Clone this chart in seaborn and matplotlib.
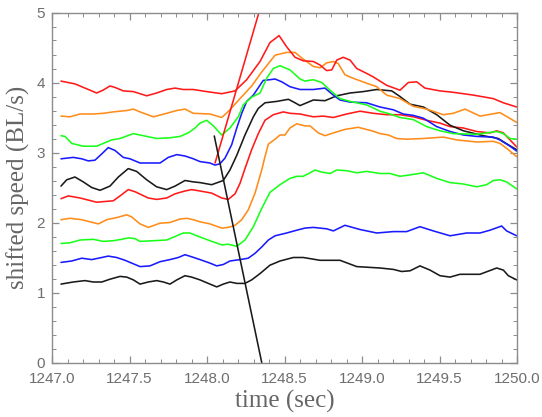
import matplotlib
matplotlib.use("Agg")
import matplotlib.pyplot as plt
import seaborn as sns
from matplotlib.ticker import MultipleLocator, FormatStrFormatter

# ---- data ----
x_black1 = [1247.058, 1247.137, 1247.213, 1247.266, 1247.321, 1247.374, 1247.439, 1247.482, 1247.525, 1247.568,
            1247.621, 1247.675, 1247.719, 1247.761, 1247.805, 1247.858, 1247.901, 1247.955, 1248.019, 1248.063,
            1248.105, 1248.148, 1248.192, 1248.245, 1248.288, 1248.342, 1248.406, 1248.471, 1248.557, 1248.621,
            1248.729, 1248.858, 1248.966, 1249.116, 1249.202, 1249.256, 1249.310, 1249.374, 1249.439, 1249.503,
            1249.568, 1249.632, 1249.761, 1249.869, 1249.912, 1249.944, 1249.998]
y_black1 = [1.12, 1.15, 1.17, 1.15, 1.15, 1.19, 1.23, 1.22, 1.18, 1.12,
            1.15, 1.17, 1.15, 1.12, 1.18, 1.24, 1.22, 1.18, 1.12, 1.08,
            1.12, 1.15, 1.13, 1.13, 1.18, 1.27, 1.39, 1.45, 1.50, 1.50,
            1.46, 1.46, 1.37, 1.35, 1.33, 1.30, 1.31, 1.38, 1.32, 1.24,
            1.22, 1.26, 1.26, 1.35, 1.32, 1.24, 1.18]

x_blue1 = [1247.058, 1247.127, 1247.192, 1247.256, 1247.321, 1247.363, 1247.417, 1247.471, 1247.514, 1247.568,
           1247.632, 1247.697, 1247.761, 1247.815, 1247.858, 1247.901, 1247.955, 1248.019, 1248.063, 1248.105,
           1248.148, 1248.213, 1248.266, 1248.310, 1248.353, 1248.396, 1248.439, 1248.514, 1248.579, 1248.632,
           1248.686, 1248.772, 1248.815, 1248.890, 1248.987, 1249.095, 1249.202, 1249.288, 1249.374, 1249.460,
           1249.568, 1249.675, 1249.761, 1249.826, 1249.901, 1249.933, 1249.998]
y_blue1 = [1.43, 1.45, 1.49, 1.47, 1.50, 1.52, 1.50, 1.46, 1.42, 1.37,
           1.38, 1.44, 1.47, 1.50, 1.54, 1.51, 1.47, 1.42, 1.38, 1.40,
           1.45, 1.47, 1.49, 1.56, 1.65, 1.75, 1.81, 1.85, 1.89, 1.92,
           1.93, 1.91, 1.88, 1.96, 1.90, 1.85, 1.87, 1.87, 1.94, 1.88,
           1.81, 1.85, 1.85, 1.89, 1.95, 1.88, 1.81]

x_green1 = [1247.058, 1247.116, 1247.181, 1247.266, 1247.331, 1247.395, 1247.450, 1247.492, 1247.535, 1247.568,
            1247.654, 1247.740, 1247.794, 1247.847, 1247.890, 1247.934, 1248.019, 1248.095, 1248.137, 1248.192,
            1248.245, 1248.299, 1248.353, 1248.406, 1248.471, 1248.535, 1248.579, 1248.621, 1248.665, 1248.697,
            1248.740, 1248.794, 1248.837, 1248.901, 1248.966, 1249.030, 1249.116, 1249.181, 1249.245, 1249.310,
            1249.396, 1249.482, 1249.568, 1249.654, 1249.740, 1249.804, 1249.847, 1249.890, 1249.933, 1249.998]
y_green1 = [1.70, 1.71, 1.75, 1.76, 1.73, 1.74, 1.76, 1.78, 1.77, 1.73,
            1.74, 1.75, 1.80, 1.85, 1.85, 1.81, 1.74, 1.68, 1.69, 1.66,
            1.75, 1.94, 2.20, 2.43, 2.54, 2.63, 2.66, 2.66, 2.71, 2.75,
            2.72, 2.70, 2.75, 2.74, 2.71, 2.73, 2.70, 2.70, 2.66, 2.68,
            2.71, 2.63, 2.57, 2.55, 2.51, 2.54, 2.60, 2.61, 2.58, 2.48]

x_orange1 = [1247.058, 1247.116, 1247.192, 1247.245, 1247.299, 1247.353, 1247.417, 1247.482, 1247.514, 1247.568,
             1247.621, 1247.697, 1247.761, 1247.826, 1247.869, 1247.912, 1247.955, 1248.019, 1248.095, 1248.137,
             1248.181, 1248.224, 1248.266, 1248.310, 1248.353, 1248.374, 1248.396, 1248.439, 1248.471, 1248.503,
             1248.535, 1248.579, 1248.632, 1248.665, 1248.718, 1248.761, 1248.815, 1248.890, 1248.976, 1249.063,
             1249.116, 1249.170, 1249.224, 1249.288, 1249.396, 1249.525, 1249.611, 1249.740, 1249.847, 1249.890,
             1249.933, 1249.998]
y_orange1 = [2.04, 2.06, 2.04, 2.01, 1.98, 2.04, 2.07, 2.11, 2.08, 1.98,
             1.93, 1.99, 2.00, 2.05, 2.06, 2.04, 2.01, 1.98, 1.92, 1.93,
             1.96, 2.04, 2.18, 2.42, 2.75, 2.94, 3.12, 3.19, 3.25, 3.25,
             3.35, 3.41, 3.38, 3.38, 3.28, 3.24, 3.28, 3.33, 3.36, 3.31,
             3.27, 3.25, 3.20, 3.19, 3.20, 3.22, 3.18, 3.15, 3.16, 3.13,
             3.06, 2.94]

x_red1 = [1247.058, 1247.105, 1247.181, 1247.288, 1247.395, 1247.439, 1247.492, 1247.535, 1247.621, 1247.675,
          1247.740, 1247.794, 1247.858, 1247.901, 1247.955, 1248.030, 1248.095, 1248.137, 1248.181, 1248.213,
          1248.245, 1248.288, 1248.331, 1248.374, 1248.428, 1248.492, 1248.535, 1248.600, 1248.686, 1248.750,
          1248.815, 1248.901, 1248.987, 1249.073, 1249.159, 1249.245, 1249.331, 1249.417, 1249.503, 1249.568,
          1249.654, 1249.740, 1249.826, 1249.869, 1249.912, 1249.955, 1249.998]
y_red1 = [2.34, 2.38, 2.35, 2.29, 2.31, 2.38, 2.47, 2.44, 2.35, 2.33,
          2.35, 2.41, 2.45, 2.47, 2.45, 2.42, 2.35, 2.33, 2.41, 2.56,
          2.77, 3.04, 3.27, 3.46, 3.54, 3.58, 3.56, 3.55, 3.51, 3.52,
          3.50, 3.55, 3.59, 3.56, 3.54, 3.54, 3.51, 3.46, 3.42, 3.37,
          3.35, 3.30, 3.28, 3.31, 3.28, 3.18, 3.08]

x_black2 = [1247.058, 1247.095, 1247.148, 1247.202, 1247.256, 1247.310, 1247.374, 1247.428, 1247.492, 1247.546,
            1247.611, 1247.675, 1247.740, 1247.794, 1247.858, 1247.912, 1247.955, 1248.030, 1248.105, 1248.148,
            1248.192, 1248.245, 1248.299, 1248.331, 1248.374, 1248.450, 1248.525, 1248.568, 1248.600, 1248.686,
            1248.761, 1248.837, 1248.923, 1249.008, 1249.095, 1249.192, 1249.245, 1249.310, 1249.396, 1249.482,
            1249.568, 1249.654, 1249.783, 1249.879, 1249.944, 1249.998]
y_black2 = [2.52, 2.61, 2.65, 2.58, 2.50, 2.46, 2.52, 2.65, 2.77, 2.73,
            2.61, 2.51, 2.47, 2.52, 2.60, 2.58, 2.57, 2.54, 2.60, 2.75,
            2.96, 3.25, 3.51, 3.63, 3.71, 3.73, 3.76, 3.71, 3.67, 3.75,
            3.74, 3.81, 3.85, 3.87, 3.90, 3.88, 3.80, 3.69, 3.65, 3.54,
            3.39, 3.31, 3.24, 3.20, 3.11, 3.04]

x_blue2 = [1247.058, 1247.137, 1247.192, 1247.234, 1247.277, 1247.321, 1247.363, 1247.406, 1247.460, 1247.503,
           1247.568, 1247.654, 1247.697, 1247.750, 1247.805, 1247.858, 1247.912, 1247.955, 1248.019, 1248.052,
           1248.084, 1248.116, 1248.159, 1248.192, 1248.224, 1248.256, 1248.299, 1248.363, 1248.406, 1248.439,
           1248.482, 1248.535, 1248.600, 1248.686, 1248.761, 1248.815, 1248.858, 1248.923, 1249.030, 1249.116,
           1249.202, 1249.266, 1249.331, 1249.396, 1249.482, 1249.568, 1249.654, 1249.740, 1249.847, 1249.890,
           1249.955, 1249.998]
y_blue2 = [2.91, 2.93, 2.91, 2.88, 2.89, 2.98, 3.07, 3.03, 2.93, 2.91,
           2.85, 2.85, 2.85, 2.93, 2.97, 2.95, 2.91, 2.87, 2.85, 2.82,
           2.84, 2.92, 3.11, 3.35, 3.56, 3.73, 3.82, 4.03, 4.04, 4.05,
           4.01, 3.94, 3.90, 3.90, 3.92, 3.82, 3.75, 3.72, 3.71, 3.65,
           3.61, 3.55, 3.53, 3.49, 3.37, 3.30, 3.25, 3.23, 3.22, 3.18,
           3.09, 3.02]

x_green2 = [1247.058, 1247.084, 1247.127, 1247.202, 1247.288, 1247.331, 1247.385, 1247.439, 1247.525, 1247.589,
            1247.675, 1247.761, 1247.826, 1247.879, 1247.923, 1247.955, 1247.998, 1248.041, 1248.095, 1248.148,
            1248.202, 1248.234, 1248.288, 1248.342, 1248.385, 1248.428, 1248.471, 1248.535, 1248.600, 1248.632,
            1248.686, 1248.740, 1248.794, 1248.858, 1248.923, 1249.030, 1249.116, 1249.181, 1249.245, 1249.331,
            1249.417, 1249.503, 1249.589, 1249.740, 1249.869, 1249.912, 1249.955, 1249.998]
y_green2 = [3.24, 3.23, 3.13, 3.09, 3.09, 3.13, 3.18, 3.20, 3.27, 3.24,
            3.20, 3.21, 3.23, 3.28, 3.35, 3.42, 3.46, 3.38, 3.25, 3.35,
            3.51, 3.68, 3.79, 3.85, 4.06, 4.20, 4.24, 4.18, 4.05, 4.02,
            4.04, 4.00, 3.89, 3.77, 3.73, 3.68, 3.59, 3.55, 3.50, 3.47,
            3.37, 3.31, 3.27, 3.26, 3.30, 3.27, 3.20, 3.19]

x_orange2 = [1247.058, 1247.116, 1247.181, 1247.266, 1247.331, 1247.395, 1247.482, 1247.525, 1247.568, 1247.654,
             1247.740, 1247.805, 1247.858, 1247.912, 1248.019, 1248.095, 1248.148, 1248.213, 1248.288, 1248.353,
             1248.439, 1248.514, 1248.568, 1248.611, 1248.686, 1248.729, 1248.772, 1248.815, 1248.847, 1248.890,
             1248.944, 1249.030, 1249.095, 1249.159, 1249.245, 1249.331, 1249.417, 1249.525, 1249.589, 1249.665,
             1249.761, 1249.890, 1249.998]
y_orange2 = [3.52, 3.51, 3.55, 3.55, 3.56, 3.58, 3.60, 3.62, 3.58, 3.51,
             3.56, 3.60, 3.62, 3.56, 3.55, 3.50, 3.61, 3.77, 3.95, 4.15,
             4.39, 4.43, 4.43, 4.35, 4.23, 4.21, 4.28, 4.30, 4.27, 4.11,
             4.06, 3.99, 3.94, 3.82, 3.77, 3.66, 3.62, 3.54, 3.56, 3.62,
             3.52, 3.57, 3.43]

x_red2 = [1247.058, 1247.148, 1247.213, 1247.288, 1247.329, 1247.374, 1247.406, 1247.460, 1247.525, 1247.611,
          1247.675, 1247.740, 1247.794, 1247.847, 1247.912, 1247.998, 1248.095, 1248.181, 1248.256, 1248.342,
          1248.406, 1248.465, 1248.514, 1248.568, 1248.621, 1248.686, 1248.729, 1248.772, 1248.805, 1248.837,
          1248.879, 1248.923, 1248.966, 1249.030, 1249.073, 1249.159, 1249.245, 1249.299, 1249.353, 1249.406,
          1249.503, 1249.589, 1249.718, 1249.847, 1249.912, 1249.998]
y_red2 = [4.02, 3.98, 3.92, 3.85, 3.89, 3.95, 3.93, 3.88, 3.87, 3.81,
          3.85, 3.90, 3.92, 3.90, 3.90, 3.87, 3.84, 3.88, 4.04, 4.30,
          4.57, 4.67, 4.51, 4.36, 4.31, 4.30, 4.25, 4.17, 4.18, 4.32,
          4.36, 4.32, 4.20, 4.13, 4.08, 3.96, 3.89, 4.00, 4.01, 3.92,
          3.88, 3.86, 3.82, 3.77, 3.71, 3.65]

# straight guide lines
x_red_fit = [1248.052, 1248.335]
y_red_fit = [2.85, 5.0]
x_black_fit = [1248.047, 1248.353]
y_black_fit = [3.236, 0.0]

x_ticks = [1247.0, 1247.5, 1248.0, 1248.5, 1249.0, 1249.5, 1250.0]
y_ticks = [0, 1, 2, 3, 4, 5]

RED, ORANGE, GREEN, BLUE, BLACK = "#ff1a1a", "#ff8c1a", "#1aff1a", "#1a1aff", "#1a1a1a"

curves = [
    (x_black1, y_black1, BLACK), (x_blue1, y_blue1, BLUE), (x_green1, y_green1, GREEN),
    (x_orange1, y_orange1, ORANGE), (x_red1, y_red1, RED),
    (x_black2, y_black2, BLACK), (x_blue2, y_blue2, BLUE), (x_green2, y_green2, GREEN),
    (x_orange2, y_orange2, ORANGE), (x_red2, y_red2, RED),
]

sns.set_style("ticks")
plt.rcParams['font.family'] = ['Liberation Sans', 'DejaVu Sans']

fig = plt.figure(figsize=(5.42, 4.17), dpi=100)
ax = fig.add_axes([52 / 542, 1 - 362.5 / 417, (517 - 52) / 542, (362.5 - 12.5) / 417])

for xs, ys, c in curves:
    sns.lineplot(x=xs, y=ys, color=c, ax=ax, estimator=None, sort=False, linewidth=1.15)

sns.lineplot(x=x_red_fit, y=y_red_fit, color=RED, ax=ax, estimator=None, sort=False, linewidth=1.15)
sns.lineplot(x=x_black_fit, y=y_black_fit, color=BLACK, ax=ax, estimator=None, sort=False, linewidth=1.15)

ax.set_xlim(1247.0, 1250.0)
ax.set_ylim(0, 5)
ax.set_xticks(x_ticks)
ax.set_yticks(y_ticks)
ax.xaxis.set_major_formatter(FormatStrFormatter('%.1f'))
ax.xaxis.set_minor_locator(MultipleLocator(0.1))
ax.yaxis.set_minor_locator(MultipleLocator(0.2))

frame_c = "#8c8c8c"
for s in ax.spines.values():
    s.set_color(frame_c)
    s.set_linewidth(1.0)
ax.tick_params(which='both', direction='in', top=True, right=True, color=frame_c,
               labelcolor="#6e6e6e", labelsize=11)
ax.tick_params(which='major', length=5, width=0.9)
ax.tick_params(which='minor', length=3, width=0.7)
ax.tick_params(axis='x', pad=6.5)
ax.tick_params(axis='y', pad=5)

lab_font = dict(family=['Liberation Serif', 'DejaVu Serif'], size=18, color="#666666")
ax.set_xlabel("time (sec)", labelpad=3, **lab_font)
ax.set_ylabel("shifted speed (BL/s)", labelpad=5, **lab_font)

fig.savefig("out.png", dpi=100)
